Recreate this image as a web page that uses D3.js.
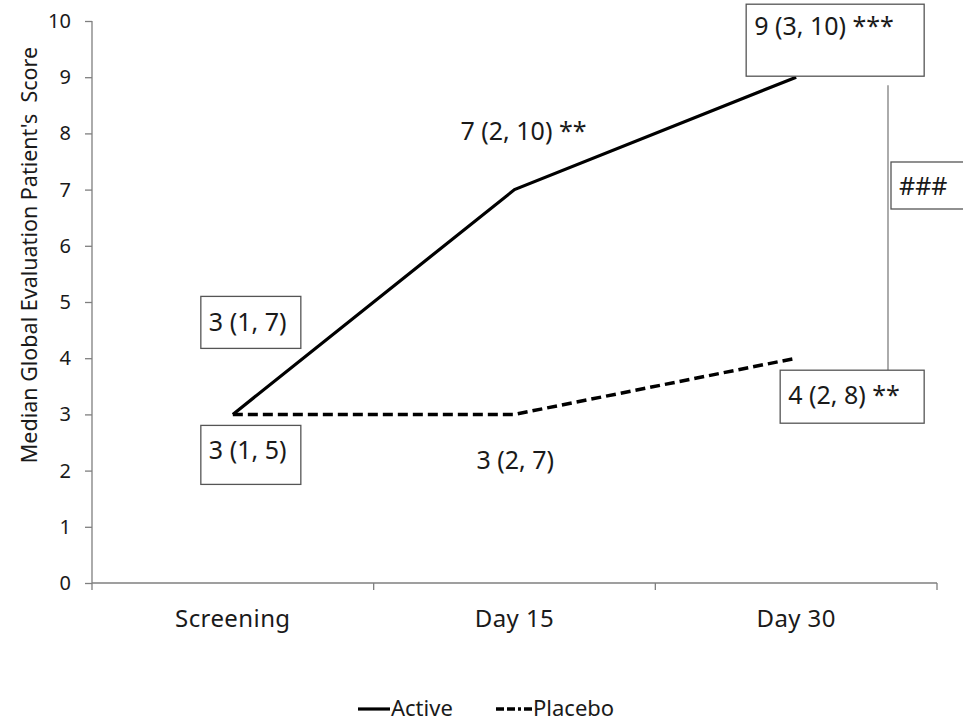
<!DOCTYPE html>
<html>
<head>
<meta charset="utf-8">
<script src="https://cdn.jsdelivr.net/npm/d3@7"></script>
<style>
  body { margin: 0; background: #fff; }
  text { font-family: "Noto Sans", sans-serif; fill: #1a1a1a; }
</style>
</head>
<body>
<div id="chart"></div>
<script>
// data
const categories = ["Screening", "Day 15", "Day 30"];
const activeValues = [3, 7, 9];
const placeboValues = [3, 3, 4];
const activeLabels = ["3 (1, 7)", "7 (2, 10) **", "9 (3, 10) ***"];
const placeboLabels = ["3 (1, 5)", "3 (2, 7)", "4 (2, 8) **"];
const yTicks = [0, 1, 2, 3, 4, 5, 6, 7, 8, 9, 10];
const diffLabel = "###";

const width = 963, height = 721;
const margin = { left: 92, right: 26, top: 21, bottom: 138 };

let svg = d3.select("#chart")
    .append("svg")
    .attr("width", width)
    .attr("height", height);

let x = d3.scaleBand()
    .domain(categories)
    .range([margin.left, width - margin.right])
    .padding(0);
let y = d3.scaleLinear()
    .domain([0, 10])
    .range([height - margin.bottom, margin.top]);
const cx = c => x(c) + x.bandwidth() / 2;

// y axis
let yAxis = svg.append("g")
    .attr("transform", `translate(${margin.left},0)`)
    .call(d3.axisLeft(y).tickValues(yTicks).tickSize(7).tickPadding(14));
yAxis.selectAll("text").style("font-size", "20px").attr("fill", "#1a1a1a");
yAxis.selectAll("line,path").attr("stroke", "#7f7f7f").attr("stroke-width", 1.3);
yAxis.select(".domain").attr("d", `M0,${y(0)}V${y(10)}`);

// x axis, ticks on band edges
let xAxis = svg.append("g")
    .attr("transform", `translate(0,${y(0)})`);
xAxis.append("line")
    .attr("x1", x.range()[0]).attr("x2", x.range()[1])
    .attr("stroke", "#7f7f7f").attr("stroke-width", 1.3);
let edges = categories.map(c => x(c)).concat([x.range()[1]]);
xAxis.selectAll(".edge").data(edges).enter()
    .append("line")
    .attr("x1", d => d).attr("x2", d => d)
    .attr("y1", 0).attr("y2", 7)
    .attr("stroke", "#7f7f7f").attr("stroke-width", 1.3);
xAxis.selectAll(".cat").data(categories).enter()
    .append("text")
    .attr("x", d => cx(d))
    .attr("y", 44)
    .attr("text-anchor", "middle")
    .style("font-size", "24px")
    .style("letter-spacing", "0.4px")
    .text(d => d);

// y title
svg.append("text")
    .attr("transform", `translate(37,${(y(0) + y(10)) / 2 - 47}) rotate(-90)`)
    .attr("text-anchor", "middle")
    .style("font-size", "21.5px")
    .style("white-space", "pre")
    .text("Median Global Evaluation Patient's  Score");

// lines
let line = d3.line()
    .x((d, i) => cx(categories[i]))
    .y(d => y(d));
svg.append("path")
    .datum(activeValues)
    .attr("d", line)
    .attr("fill", "none")
    .attr("stroke", "#000")
    .attr("stroke-width", 3.2);
svg.append("path")
    .datum(placeboValues)
    .attr("d", line)
    .attr("fill", "none")
    .attr("stroke", "#000")
    .attr("stroke-width", 3.5)
    .attr("stroke-dasharray", "10,5");

// annotations (offsets relative to each point)
function label(txt, px, py, dx, dy, box) {
    let g = svg.append("g");
    if (box) {
        g.append("rect")
            .attr("x", px + box[0]).attr("y", py + box[1])
            .attr("width", box[2]).attr("height", box[3])
            .attr("fill", "#fff")
            .attr("stroke", "#555").attr("stroke-width", 1.3);
    }
    g.append("text")
        .attr("x", px + dx).attr("y", py + dy)
        .style("font-size", "25px")
        .text(txt);
}

// connector line between day 30 labels
svg.append("line")
    .attr("x1", 888).attr("x2", 888)
    .attr("y1", y(activeValues[2]) + 8).attr("y2", y(placeboValues[2]) + 12)
    .attr("stroke", "#7f7f7f").attr("stroke-width", 1.3);

label(activeLabels[0], cx(categories[0]), y(activeValues[0]), -24, -83, [-32, -118, 100, 52]);
label(activeLabels[1], cx(categories[1]), y(activeValues[1]), -54, -50, null);
label(activeLabels[2], cx(categories[2]), y(activeValues[2]), -42, -42, [-50, -73, 178, 72]);
label(placeboLabels[0], cx(categories[0]), y(placeboValues[0]), -24, 45, [-32, 11, 100, 59]);
label(placeboLabels[1], cx(categories[1]), y(placeboValues[1]), -38, 55, null);
label(placeboLabels[2], cx(categories[2]), y(placeboValues[2]), -8, 46, [-16, 12, 144, 53]);

svg.append("rect")
    .attr("x", 891).attr("y", 162).attr("width", 80).attr("height", 47)
    .attr("fill", "#fff").attr("stroke", "#555").attr("stroke-width", 1.3);
svg.append("text")
    .attr("x", 899).attr("y", 195)
    .style("font-size", "25px")
    .text(diffLabel);

// legend
let legend = svg.append("g").attr("transform", "translate(0,709)");
legend.append("line")
    .attr("x1", 358).attr("x2", 390).attr("y1", 0).attr("y2", 0)
    .attr("stroke", "#000").attr("stroke-width", 3.2);
legend.append("text").attr("x", 391).attr("y", 7).style("font-size", "22px").text("Active");
legend.append("line")
    .attr("x1", 496).attr("x2", 532).attr("y1", 0).attr("y2", 0)
    .attr("stroke", "#000").attr("stroke-width", 3.5)
    .attr("stroke-dasharray", "8,3,8,3,3,3");
legend.append("text").attr("x", 533).attr("y", 7).style("font-size", "22px").text("Placebo");
</script>
</body>
</html>
